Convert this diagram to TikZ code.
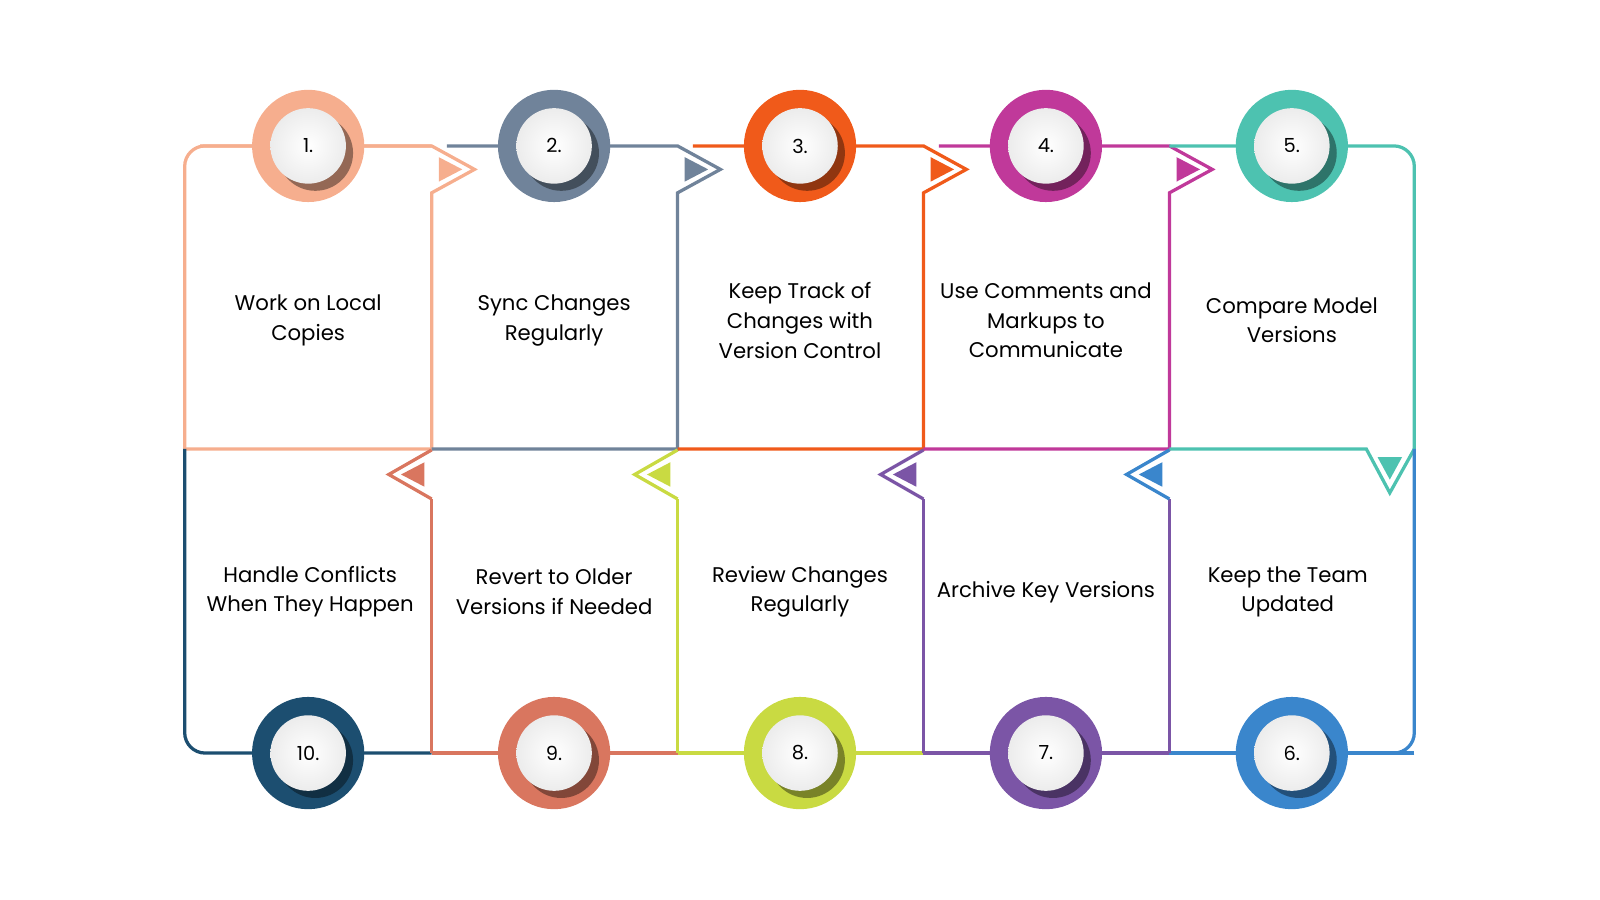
\documentclass[tikz,border=0pt]{standalone}
\usepackage{fontspec}
\setmainfont{Poppins}
\definecolor{cA}{HTML}{F6AE8E}
\definecolor{cB}{HTML}{70839A}
\definecolor{cC}{HTML}{F05A1A}
\definecolor{cD}{HTML}{C0399A}
\definecolor{cE}{HTML}{4DC2B0}
\definecolor{cF}{HTML}{3A86CC}
\definecolor{cG}{HTML}{7B55A6}
\definecolor{cH}{HTML}{C9DA42}
\definecolor{cI}{HTML}{D9765F}
\definecolor{cJ}{HTML}{1C4E70}
\tikzset{
    edge/.style={line width=1.6pt, rounded corners=10pt},
    steptext/.style={align=center, font=\fontsize{10.4}{14.5}\selectfont},
    numtext/.style={font=\fontsize{9.5}{11}\selectfont},
}
% step circle: name, x, y, colour, number
\newcommand\StepDisc[5]{%
    \fill[#4] (#2,#3) circle (27.5pt);
    \fill[#4!60!black] (#2+7,#3+7) circle (18.5pt);
    \shade[inner color=white, outer color=gray!15] (#2,#3) circle (18.5pt);
    \node[numtext] (#1) at (#2,#3) {#5};
}
\begin{document}
\begin{tikzpicture}[x=0.5pt,y=-0.5pt]
    \useasboundingbox (0,0) rectangle (1568,882);
    % top row
    \draw[edge,cA] (181,440) -- (181,143) -- (423,143);
    \foreach \xa/\xb/\c in {181/423/cA,423/664/cB,664/905/cC,905/1146/cD}{
        \draw[line width=1.6pt,\c] (\xa+15,143) -- (\xb,143) -- (\xb+42,166) -- (\xb,189) -- (\xb,440) -- (\xa,440);
        \fill[\c] (\xb+7,154) -- (\xb+30,166) -- (\xb+7,178) -- cycle;
    }
    \draw[edge,cE] (1146,143) -- (1386,143) -- (1386,440);
    \draw[line width=1.6pt,cE] (1386,440) -- (1362,483) -- (1339,440) -- (1146,440);
    \fill[cE] (1350,448) -- (1374,448) -- (1362,470) -- cycle;
    % bottom row
    \draw[edge,cF] (1386,440) -- (1386,738) -- (1146,738);
    \draw[edge,cJ] (181,440) -- (181,738) -- (423,738);
    \foreach \xa/\xb/\c/\f in {423/664/cI/cI,664/905/cH/cH,905/1146/cG/cG,1146/1386/cF/cG}{
        \draw[line width=1.6pt,\c] (\xb,738) -- (\xa,738);
        \draw[line width=1.6pt,\f] (\xa,738) -- (\xa,489);
        \draw[line width=1.6pt,\c] (\xa,489) -- (\xa-42,465) -- (\xa,441);
        \fill[\c] (\xa-7,453) -- (\xa-30,465) -- (\xa-7,477) -- cycle;
    }
    % circles
    \StepDisc{s1}{302}{143}{cA}{1.}
    \StepDisc{s2}{543}{143}{cB}{2.}
    \StepDisc{s3}{784}{143}{cC}{3.}
    \StepDisc{s4}{1025}{143}{cD}{4.}
    \StepDisc{s5}{1266}{143}{cE}{5.}
    \StepDisc{s6}{1266}{738}{cF}{6.}
    \StepDisc{s7}{1025}{738}{cG}{7.}
    \StepDisc{s8}{784}{738}{cH}{8.}
    \StepDisc{s9}{543}{738}{cI}{9.}
    \StepDisc{s10}{302}{738}{cJ}{10.}
    % texts
    \node[steptext] (t1) at (302,314) {Work on Local\\Copies};
    \node[steptext] (t2) at (543,314) {Sync Changes\\Regularly};
    \node[steptext] (t3) at (784,314) {Keep Track of\\Changes with\\Version Control};
    \node[steptext] (t4) at (1025,314) {Use Comments and\\Markups to\\Communicate};
    \node[steptext] (t5) at (1266,314) {Compare Model\\Versions};
    \node[steptext] (t6) at (1262,580) {Keep the Team\\Updated};
    \node[steptext] (t7) at (1025,580) {Archive Key Versions};
    \node[steptext] (t8) at (784,580) {Review Changes\\Regularly};
    \node[steptext] (t9) at (543,580) {Revert to Older\\Versions if Needed};
    \node[steptext] (t10) at (304,580) {Handle Conflicts\\When They Happen};
\end{tikzpicture}
\end{document}
